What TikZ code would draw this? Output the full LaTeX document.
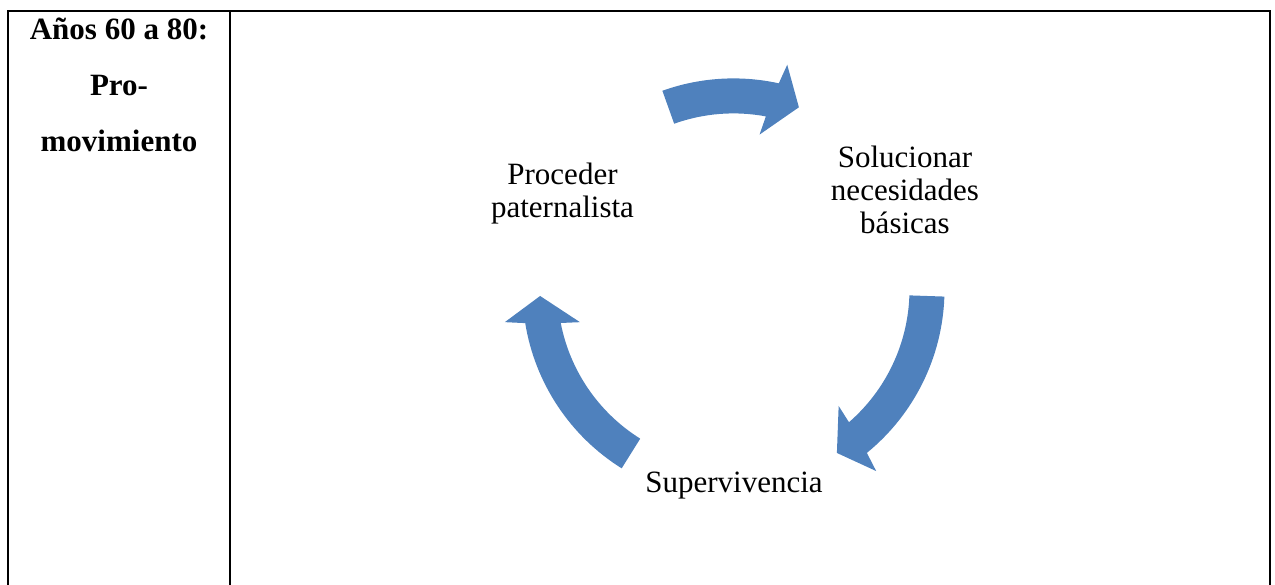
\documentclass[tikz,border=0pt]{standalone}
\usepackage{fontspec}
\setmainfont{Liberation Serif}
\definecolor{arrowblue}{RGB}{79,129,189}
% #1 tail angle, #2 head base angle, #3 tip angle (clockwise arrow)
\newcommand\drawcyclearrow[3]{%
  \fill[cyclearrow] (#1:211) arc[start angle=#1, end angle={#2-0.9}, radius=211]
    -- ({#2-1.95}:231) -- (#3:193.5) -- ({#2+1.95}:157) -- ({#2+0.9}:176)
    arc[start angle={#2+0.9}, end angle=#1, radius=176] -- cycle;}
\begin{document}
\begin{tikzpicture}[x=1pt,y=1pt,
  cyclearrow/.style={fill=arrowblue, draw=none},
  celltext/.style={font=\fontsize{31}{56.3}\selectfont\bfseries, inner sep=0pt, anchor=base},
  steptext/.style={font=\fontsize{31}{32.7}\selectfont, inner sep=0pt, anchor=base},
  tablerule/.style={line width=2pt, draw=black, line cap=rect}]
\useasboundingbox (0,0) rectangle (1275,-585);
% table frame
\coordinate (tl) at (8,-11);
\coordinate (tr) at (1270.3,-11);
\coordinate (bl) at (8,-590);
\coordinate (br) at (1270.3,-590);
\coordinate (dt) at (230.3,-11);
\coordinate (db) at (230.3,-590);
\draw[tablerule] (bl) -- (tl) -- (tr) -- (br);
\draw[tablerule] (dt) -- (db);
% left cell
\node[celltext] (period) at (119,-39.3) {\begin{tabular}[t]{@{}c@{}}Años 60 a 80:\\Pro-\\movimiento\end{tabular}};
% cycle arrows
\begin{scope}[shift={(733.5,-289.4)}]
  \drawcyclearrow{109.7}{78.5}{70.25}
  \drawcyclearrow{-1.95}{-49.9}{-57.7}
  \drawcyclearrow{238}{190.1}{181.95}
\end{scope}
% cycle texts
\node[steptext] (proceder) at (562.5,-185) {\begin{tabular}[t]{@{}c@{}}Proceder\\paternalista\end{tabular}};
\node[steptext] (solucionar) at (905,-168) {\begin{tabular}[t]{@{}c@{}}Solucionar\\necesidades\\básicas\end{tabular}};
\node[steptext] (supervivencia) at (734,-492.5) {Supervivencia};
\end{tikzpicture}
\end{document}
